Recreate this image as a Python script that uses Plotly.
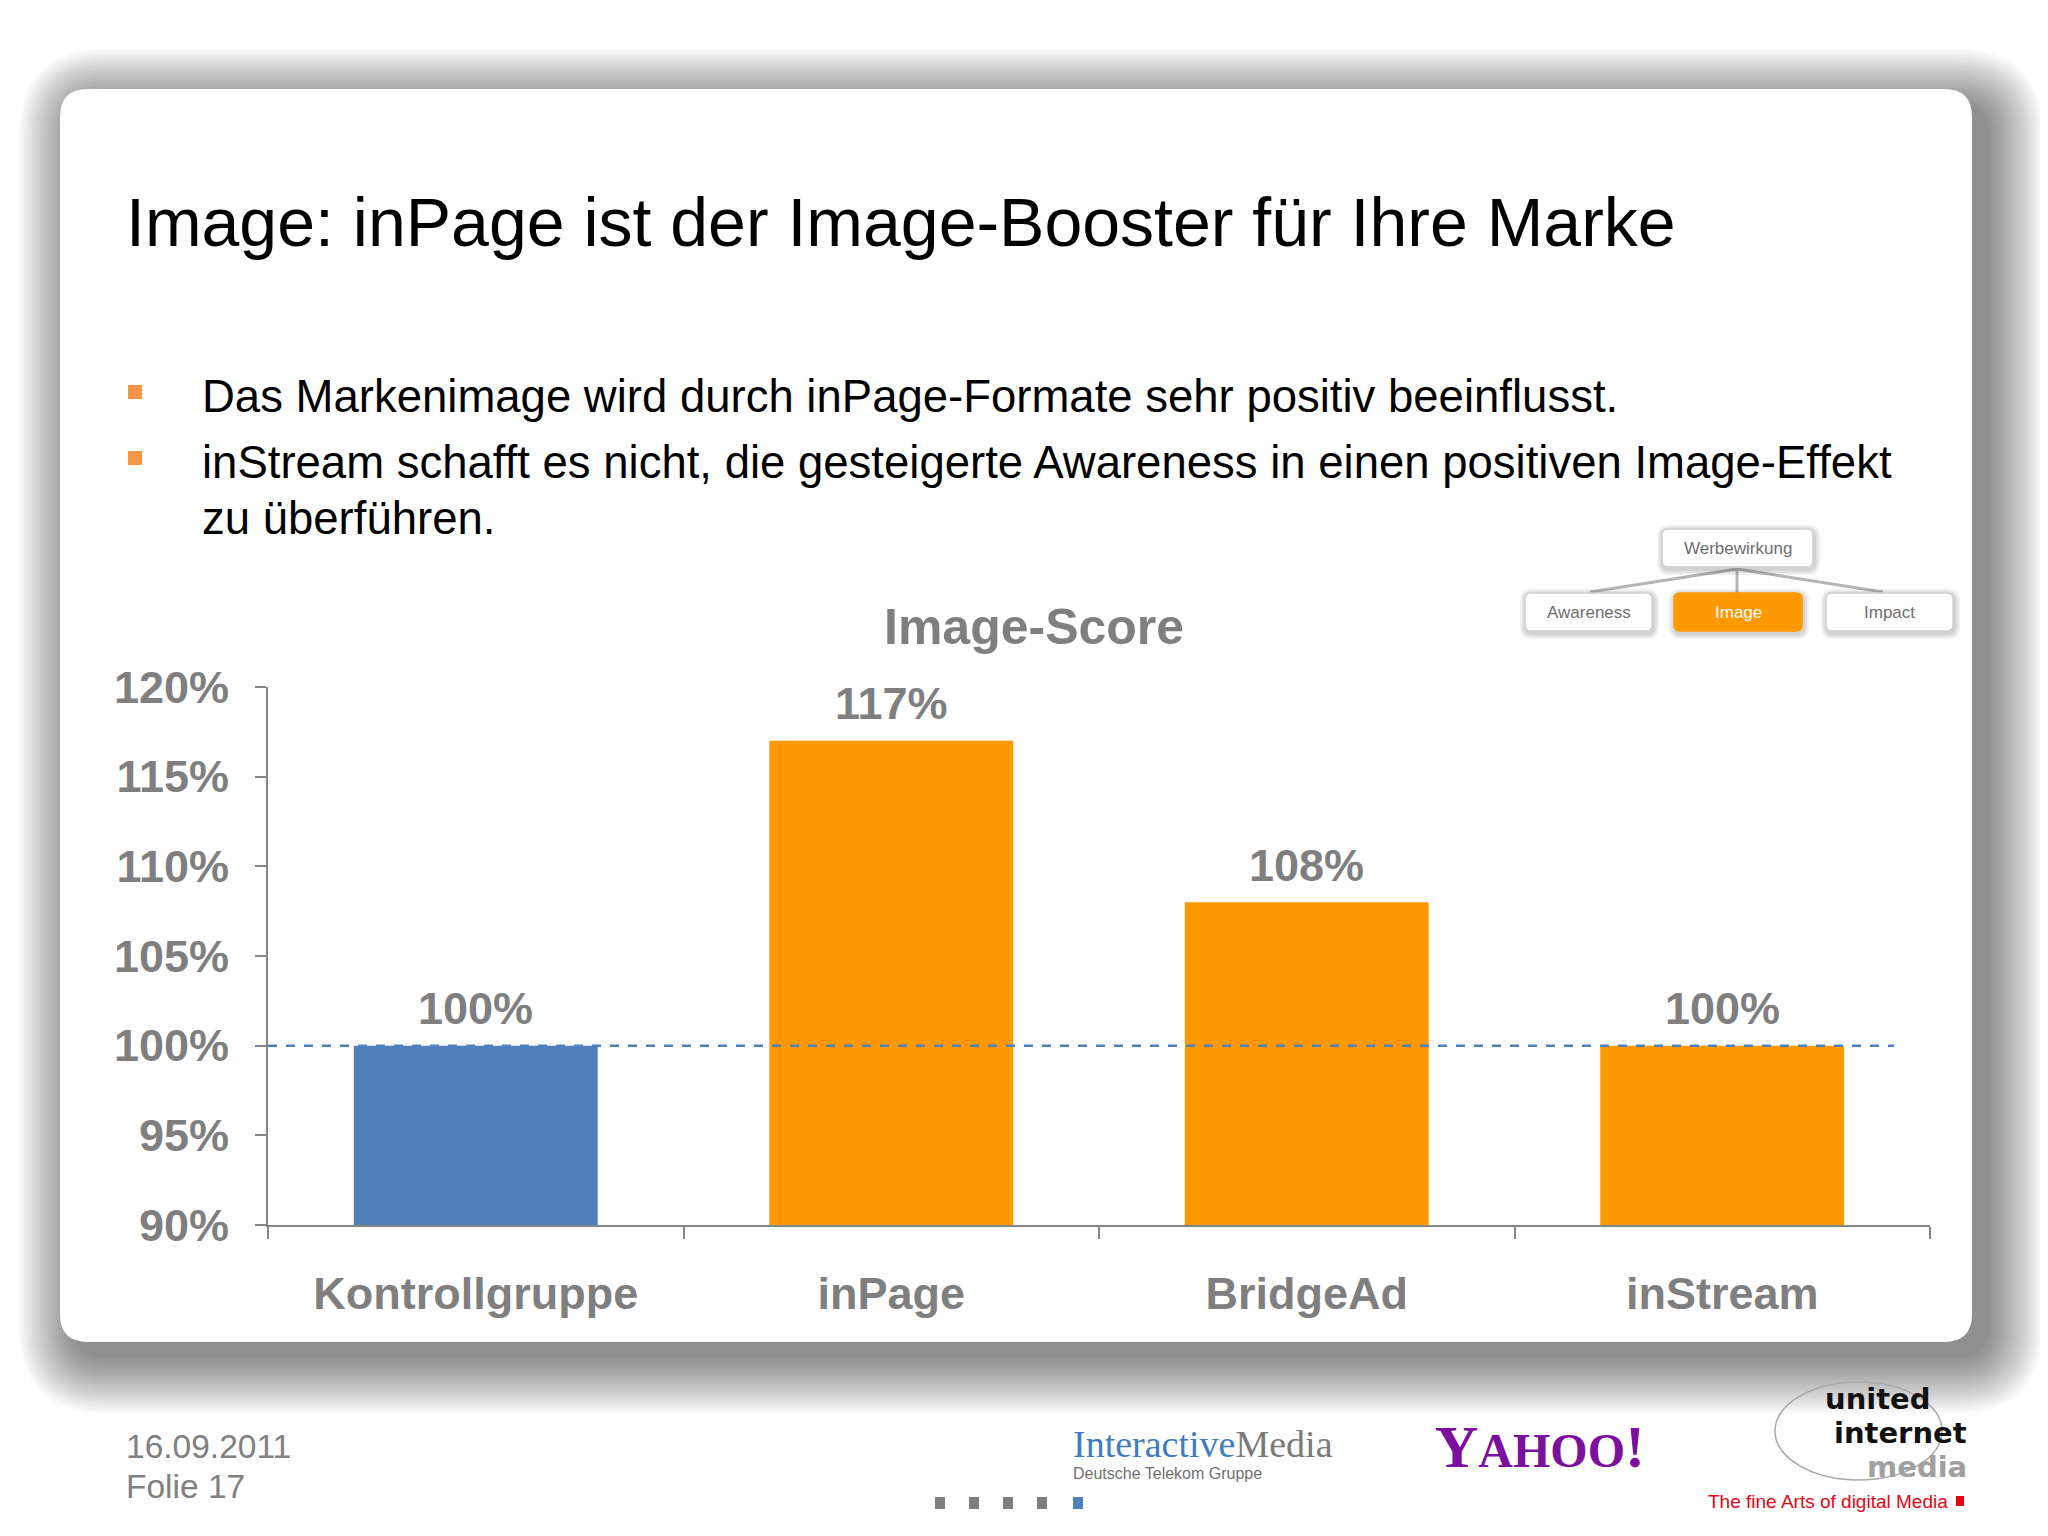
import plotly.graph_objects as go

# ---------------- data ----------------
categories = ["Kontrollgruppe", "inPage", "BridgeAd", "inStream"]
scores = [100, 117, 108, 100]
bar_colors = ["#4F7FBD", "#FF9900", "#FF9900", "#FF9900"]
y_ticks = [90, 95, 100, 105, 110, 115, 120]
y_ticktext = [f"{v}%" for v in y_ticks]
reference_level = 100

slide_title = "Image: inPage ist der Image-Booster für Ihre Marke"
bullets = [
    "Das Markenimage wird durch inPage-Formate sehr positiv beeinflusst.",
    "inStream schafft es nicht, die gesteigerte Awareness in einen positiven Image-Effekt",
    "zu überführen.",
]
chart_title = "Image-Score"
hier_top = "Werbewirkung"
hier_children = ["Awareness", "Image", "Impact"]

# ---------------- geometry ----------------
OFF = 8  # page body margin
W, H = 2048, 1536
ML, MR, MT, MB = 268 - OFF, 118 + OFF, 687 - OFF, 311 + OFF
PW, PH = W - ML - MR, H - MT - MB


def X(px):
    return (px - OFF - ML) / PW


def Y(py):
    return (H - MB - (py - OFF)) / PH


def rr_path(x0, y0, x1, y1, r):
    pts = [
        f"M {X(x0 + r)},{Y(y0)}",
        f"L {X(x1 - r)},{Y(y0)}",
        f"Q {X(x1)},{Y(y0)} {X(x1)},{Y(y0 + r)}",
        f"L {X(x1)},{Y(y1 - r)}",
        f"Q {X(x1)},{Y(y1)} {X(x1 - r)},{Y(y1)}",
        f"L {X(x0 + r)},{Y(y1)}",
        f"Q {X(x0)},{Y(y1)} {X(x0)},{Y(y1 - r)}",
        f"L {X(x0)},{Y(y0 + r)}",
        f"Q {X(x0)},{Y(y0)} {X(x0 + r)},{Y(y0)}",
        "Z",
    ]
    return " ".join(pts)


GRAY = "#7F7F7F"
FONT = "Liberation Sans"

shapes = []
annotations = []

# card shadow
N = 22
for i in range(N):
    e = 2.6 * (N - i)
    shapes.append(dict(
        type="path", xref="paper", yref="paper", layer="below",
        path=rr_path(60 - e + 16, 89 - e + 17, 1972 + e + 14, 1342 + e + 14, 30 + e),
        fillcolor="rgba(0,0,0,0.022)", line=dict(width=0),
    ))
# card
shapes.append(dict(
    type="path", xref="paper", yref="paper", layer="below",
    path=rr_path(60, 89, 1972, 1342, 28),
    fillcolor="white", line=dict(width=0),
))

# ---------------- slide text ----------------
annotations.append(dict(
    x=X(124), y=Y(222), xref="paper", yref="paper", xanchor="left", yanchor="middle",
    text=slide_title, showarrow=False, font=dict(family=FONT, size=68, color="black"),
))
bullet_y = [397, 462, 518]
for t, yy in zip(bullets, bullet_y):
    annotations.append(dict(
        x=X(200), y=Y(yy), xref="paper", yref="paper", xanchor="left", yanchor="middle",
        text=t, showarrow=False, font=dict(family=FONT, size=45.5, color="black"),
    ))
for yy in [392, 458]:
    shapes.append(dict(
        type="rect", xref="paper", yref="paper",
        x0=X(128), x1=X(142), y0=Y(yy + 7), y1=Y(yy - 7),
        fillcolor="#F79646", line=dict(width=0),
    ))

# ---------------- hierarchy boxes ----------------
line_col = "#B5B5B5"
for (x1_, y1_) in [(1590, 592), (1737, 593), (1883, 592)]:
    shapes.append(dict(
        type="line", xref="paper", yref="paper",
        x0=X(1737), y0=Y(569), x1=X(x1_), y1=Y(y1_),
        line=dict(color=line_col, width=3),
    ))
boxes = [
    (hier_top, 1662, 529, 1813, 567, False),
    (hier_children[0], 1525, 593, 1652, 631, False),
    (hier_children[1], 1674, 593, 1802, 631, True),
    (hier_children[2], 1826, 593, 1953, 631, False),
]
for label, x0, y0, x1, y1, hl in boxes:
    for k in range(3):
        e = 2 * (3 - k)
        shapes.append(dict(
            type="path", xref="paper", yref="paper",
            path=rr_path(x0 - e + 1, y0 - e + 2, x1 + e + 1, y1 + e + 2, 6 + e),
            fillcolor="rgba(0,0,0,0.06)", line=dict(width=0),
        ))
    shapes.append(dict(
        type="path", xref="paper", yref="paper",
        path=rr_path(x0, y0, x1, y1, 6),
        fillcolor="#FF9900" if hl else "white",
        line=dict(color="#FF9900" if hl else "#D0D0D0", width=1.5),
    ))
    annotations.append(dict(
        x=X((x0 + x1) / 2), y=Y((y0 + y1) / 2), xref="paper", yref="paper",
        xanchor="center", yanchor="middle", text=label, showarrow=False,
        font=dict(family=FONT, size=17, color="white" if hl else "#6E6E6E"),
    ))

# ---------------- chart ----------------
fig = go.Figure()
fig.add_trace(go.Bar(
    x=categories, y=scores, marker=dict(color=bar_colors, line=dict(width=0)),
    showlegend=False, hoverinfo="x+y",
))
for c, v in zip(categories, scores):
    annotations.append(dict(
        x=c, y=v, xref="x", yref="y", xanchor="center", yanchor="middle",
        yshift=37, text=f"{v}%", showarrow=False,
        font=dict(family=FONT, size=45, color=GRAY, weight="bold"),
    ))

shapes.append(dict(
    type="line", xref="paper", yref="y", x0=0, x1=X(1894),
    y0=reference_level, y1=reference_level,
    line=dict(color="#4F81BD", width=2.5, dash="dash"), layer="above",
))

annotations.append(dict(
    x=X(1034), y=Y(627), xref="paper", yref="paper", xanchor="center", yanchor="middle",
    text=chart_title, showarrow=False,
    font=dict(family=FONT, size=50, color=GRAY, weight="bold"),
))

# ---------------- footer ----------------
annotations.append(dict(
    x=X(124), y=Y(1446), xref="paper", yref="paper", xanchor="left", yanchor="middle",
    text="16.09.2011", showarrow=False, font=dict(family=FONT, size=33.5, color="#808080"),
))
annotations.append(dict(
    x=X(124), y=Y(1486), xref="paper", yref="paper", xanchor="left", yanchor="middle",
    text="Folie 17", showarrow=False, font=dict(family=FONT, size=33.5, color="#808080"),
))
for xx, col in [(940, "#7F7F7F"), (974, "#7F7F7F"), (1008, "#7F7F7F"), (1042, "#7F7F7F"), (1078, "#4F81BD")]:
    shapes.append(dict(
        type="rect", xref="paper", yref="paper",
        x0=X(xx - 5), x1=X(xx + 5), y0=Y(1509), y1=Y(1497),
        fillcolor=col, line=dict(width=0),
    ))

# InteractiveMedia logo
annotations.append(dict(
    x=X(1071), y=Y(1444), xref="paper", yref="paper", xanchor="left", yanchor="middle",
    text="<span style='color:#3F7CC0'>Interactive</span><span style='color:#7A7A7A'>Media</span>",
    showarrow=False, font=dict(family="Liberation Serif", size=38),
))
annotations.append(dict(
    x=X(1071), y=Y(1473), xref="paper", yref="paper", xanchor="left", yanchor="middle",
    text="Deutsche Telekom Gruppe", showarrow=False,
    font=dict(family="Liberation Sans Narrow, Liberation Sans", size=16, color="#707070"),
))
# Yahoo logo
annotations.append(dict(
    x=X(1540), y=Y(1447), xref="paper", yref="paper", xanchor="center", yanchor="middle",
    text="Y<span style='font-size:48px'>AHOO</span>!", showarrow=False,
    font=dict(family="Liberation Serif", size=60, color="#7B0F9E", weight="bold"),
))
# united internet media logo
shapes.append(dict(
    type="circle", xref="paper", yref="paper",
    x0=X(1775), x1=X(1942), y0=Y(1480), y1=Y(1382),
    line=dict(color="#A8A8A8", width=1.5),
))
logo_lines = [("united", 1932, 1399, "#111111"),
              ("internet", 1968, 1433, "#111111"),
              ("media", 1968, 1467, "#A0A0A0")]
for txt, xr, yc, col in logo_lines:
    annotations.append(dict(
        x=X(xr), y=Y(yc), xref="paper", yref="paper", xanchor="right", yanchor="middle",
        text=txt, showarrow=False, borderpad=0,
        font=dict(family="DejaVu Sans", size=29, color=col, weight="bold"),
    ))
annotations.append(dict(
    x=X(1950), y=Y(1501), xref="paper", yref="paper", xanchor="right", yanchor="middle",
    text="The fine Arts of digital Media", showarrow=False,
    font=dict(family=FONT, size=19, color="#E30613"),
))
shapes.append(dict(
    type="rect", xref="paper", yref="paper",
    x0=X(1956), x1=X(1964), y0=Y(1506), y1=Y(1496),
    fillcolor="#E30613", line=dict(width=0),
))

fig.update_layout(
    width=W, height=H,
    margin=dict(l=ML, r=MR, t=MT, b=MB, pad=0),
    paper_bgcolor="white", plot_bgcolor="rgba(0,0,0,0)",
    bargap=0.413,
    shapes=shapes, annotations=annotations,
    font=dict(family=FONT),
)
fig.update_xaxes(
    type="category", showline=True, linecolor="#868686", linewidth=2,
    ticks="outside", tickson="boundaries", ticklen=12, tickcolor="#868686", tickwidth=2,
    tickfont=dict(family=FONT, size=45, color=GRAY, weight="bold"),
    ticklabelstandoff=28, showgrid=False, zeroline=False,
)
fig.update_yaxes(
    range=[90, 120], tickvals=y_ticks, ticktext=y_ticktext,
    showline=True, linecolor="#868686", linewidth=2,
    ticks="outside", ticklen=11, tickcolor="#868686", tickwidth=2,
    tickfont=dict(family=FONT, size=45, color=GRAY, weight="bold"),
    ticklabelstandoff=17, showgrid=False, zeroline=False,
)

fig.write_html("out.html")
